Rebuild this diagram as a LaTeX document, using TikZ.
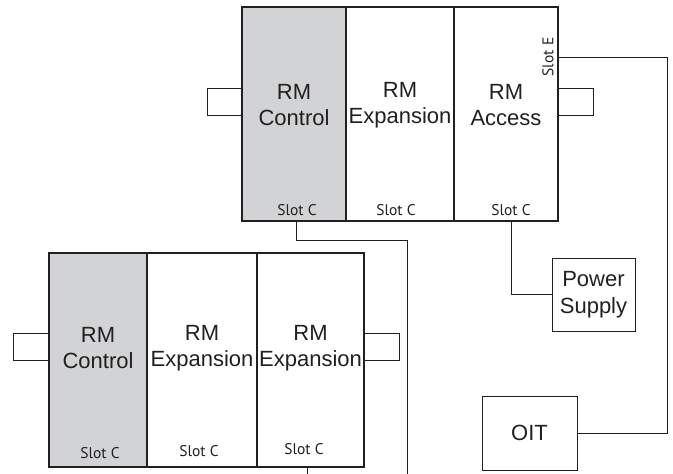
\documentclass[tikz,border=0pt]{standalone}
\usepackage{fontspec}
\setmainfont{Liberation Sans}
\newfontfamily\slotfont{PT Sans}
\definecolor{ink}{RGB}{35,31,32}
\definecolor{ctrlgrey}{RGB}{209,211,212}
\begin{document}
\begin{tikzpicture}[x=1pt,y=-1pt,
  cell/.style={draw=ink,line width=1.1pt,inner sep=0pt,outer sep=0pt},
  box/.style={draw=ink,line width=1pt,inner sep=0pt,outer sep=0pt,font=\fontsize{22}{27}\selectfont,align=center,text=ink},
  big/.style={font=\fontsize{22}{26}\selectfont,align=center,text=ink,inner sep=0pt},
  slot/.style={font=\slotfont\fontsize{15.5}{17}\selectfont,text=ink,inner sep=0pt},
  wire/.style={draw=ink,line width=0.9pt}]
\useasboundingbox (0,0) rectangle (673,474);
% top rack
\node[cell,fill=ctrlgrey,minimum width=104pt,minimum height=214pt] (tc) at (294,114) {};
\node[cell,minimum width=108pt,minimum height=214pt] (te) at (400,114) {};
\node[cell,minimum width=104pt,minimum height=214pt] (ta) at (506,114) {};
\node[big] (tct) at (294,105) {RM\\Control};
\node[big] (tet) at (400,105) {RM\\Expansion};
\node[big] (tat) at (506,105) {RM\\Access};
\node[slot] (tcs) at (297,210) {Slot C};
\node[slot] (tes) at (396,210) {Slot C};
\node[slot] (tas) at (511,210) {Slot C};
\node[slot,rotate=90] (tae) at (548,57) {Slot E};
% bottom rack
\node[cell,fill=ctrlgrey,minimum width=98pt,minimum height=214pt] (bc) at (98,360) {};
\node[cell,minimum width=110pt,minimum height=214pt] (be1) at (202,360) {};
\node[cell,minimum width=107pt,minimum height=214pt] (be2) at (310.5,360) {};
\node[big] (bct) at (98,348) {RM\\Control};
\node[big] (be1t) at (202,348) {RM\\Expansion};
\node[big] (be2t) at (310.5,348) {RM\\Expansion};
\node[slot] (bcs) at (100,453) {Slot C};
\node[slot] (be1s) at (199,451) {Slot C};
\node[slot] (be2s) at (304,449) {Slot C};
% other boxes
\node[box,minimum width=83pt,minimum height=73pt] (ps) at (593.5,294.5) {Power\\Supply};
\node[box,minimum width=95pt,minimum height=74pt] (oit) at (529.5,433) {OIT};
% loops
\coordinate (tl1) at (207,88); \coordinate (tl2) at (207,115);
\draw[wire] (tc.west |- tl1) -- (tl1) -- (tl2) -- (tc.west |- tl2);
\coordinate (tr1) at (593,88); \coordinate (tr2) at (593,115);
\draw[wire] (ta.east |- tr1) -- (tr1) -- (tr2) -- (ta.east |- tr2);
\coordinate (bl1) at (13,333); \coordinate (bl2) at (13,360);
\draw[wire] (bc.west |- bl1) -- (bl1) -- (bl2) -- (bc.west |- bl2);
\coordinate (br1) at (399,333); \coordinate (br2) at (399,360);
\draw[wire] (be2.east |- br1) -- (br1) -- (br2) -- (be2.east |- br2);
% connectors
\coordinate (c1) at (296,240); \coordinate (c2) at (407,240); \coordinate (c3) at (407,474);
\draw[wire] (tc.south -| c1) -- (c1) -- (c2) -- (c3);
\coordinate (a1) at (511,294);
\draw[wire] (ta.south -| a1) -- (a1) -- (ps.west |- a1);
\coordinate (e1) at (667,57); \coordinate (e2) at (667,433);
\draw[wire] (ta.east |- e1) -- (e1) -- (e2) -- (oit.east |- e2);
\coordinate (b1) at (307,474);
\draw[wire] (be2.south -| b1) -- (b1);
\end{tikzpicture}
\end{document}
